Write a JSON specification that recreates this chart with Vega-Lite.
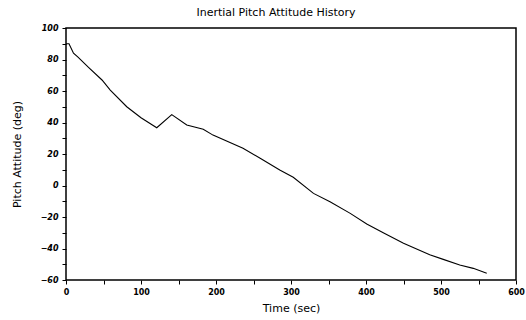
{
  "$schema": "https://vega.github.io/schema/vega-lite/v6.json",
  "width": 450,
  "height": 252,
  "autosize": {"type": "none"},
  "padding": {"left": 66, "top": 28, "right": 10, "bottom": 40},
  "background": "white",
  "title": {"text": "Inertial Pitch Attitude History", "font": "DejaVu Sans", "fontSize": 11, "fontWeight": "normal", "color": "black", "offset": 6, "dx": -15},
  "config": {
    "view": {"stroke": "black", "strokeWidth": 1.5},
    "axis": {"domain": false, "grid": false, "tickColor": "black", "labelColor": "black", "titleColor": "black", "labelFont": "DejaVu Sans", "titleFont": "DejaVu Sans", "labelFontWeight": "bold", "labelFontSize": 8, "titleFontSize": 11, "titleFontWeight": "normal", "tickSize": 4, "tickWidth": 1}
  },
  "data": {"values": [
    {"t": 0, "v": 90}, {"t": 4, "v": 90}, {"t": 10, "v": 84}, {"t": 16, "v": 81.5},
    {"t": 30, "v": 75}, {"t": 48, "v": 67}, {"t": 59, "v": 60.6}, {"t": 81, "v": 50},
    {"t": 100, "v": 43}, {"t": 121, "v": 36.7}, {"t": 141, "v": 45}, {"t": 161, "v": 38.4},
    {"t": 183, "v": 35.7}, {"t": 196, "v": 32}, {"t": 236, "v": 23.6}, {"t": 260, "v": 17},
    {"t": 285, "v": 9.8}, {"t": 303, "v": 5.2}, {"t": 330, "v": -5}, {"t": 352, "v": -10.3},
    {"t": 379, "v": -17.7}, {"t": 401, "v": -24.4}, {"t": 423, "v": -30}, {"t": 450, "v": -36.7},
    {"t": 485, "v": -44}, {"t": 503, "v": -46.9}, {"t": 525, "v": -50.5}, {"t": 543, "v": -52.6},
    {"t": 561, "v": -55.7}
  ]},
  "mark": {"type": "line", "color": "black", "strokeWidth": 1.1},
  "encoding": {
    "x": {"field": "t", "type": "quantitative", "scale": {"domain": [0, 600], "nice": false},
      "axis": {"title": "Time (sec)", "values": [0,50,100,150,200,250,300,350,400,450,500,550,600], "labelExpr": "datum.value % 100 == 0 ? datum.label : ''", "labelPadding": 4, "titlePadding": 6, "labelFlush": false}},
    "y": {"field": "v", "type": "quantitative", "scale": {"domain": [-60, 100], "nice": false},
      "axis": {"title": "Pitch Attitude (deg)", "values": [-60,-50,-40,-30,-20,-10,0,10,20,30,40,50,60,70,80,90,100], "labelExpr": "datum.value % 20 == 0 ? datum.label : ''", "labelFontStyle": "italic", "labelPadding": 4, "titlePadding": 18, "labelFlush": false}}
  }
}
